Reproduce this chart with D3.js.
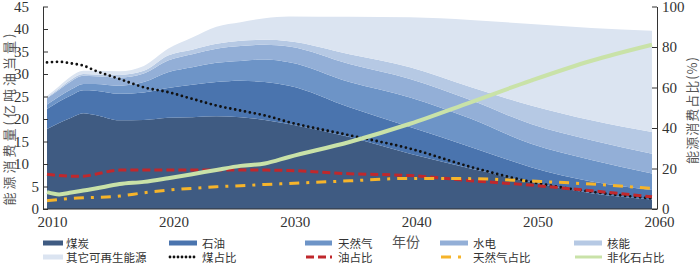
<!DOCTYPE html>
<html>
<head>
<meta charset="utf-8">
<script src="https://cdn.jsdelivr.net/npm/d3@7"></script>
<style>
  body { margin: 0; background: #fff; }
  #chart { width: 700px; height: 265px; }
</style>
</head>
<body>
<div id="chart"></div>
<script>
const years = [2010, 2011, 2012, 2013, 2014, 2016, 2018, 2020, 2022, 2024, 2026, 2028, 2030, 2035, 2040, 2045, 2050, 2055, 2060];

// 亿吨油当量
const coal    = [17.8, 19.1, 20.3, 21.3, 20.9, 19.7, 19.8, 20.3, 20.4, 20.6, 20.4, 19.8, 18.9, 16.0, 12.3, 9.0, 6.0, 3.5, 2.1];
const oil     = [4.4, 4.8, 5.0, 5.1, 5.4, 5.9, 6.1, 6.6, 7.2, 7.6, 8.1, 8.4, 8.5, 6.6, 5.9, 4.8, 3.3, 2.6, 2.1];
const gas     = [1.0, 1.1, 1.3, 1.4, 1.5, 1.8, 2.3, 3.5, 3.9, 4.3, 4.4, 5.0, 5.2, 5.6, 6.6, 6.3, 5.2, 4.8, 3.7];
const hydro   = [1.4, 1.5, 1.8, 1.8, 1.7, 1.8, 1.9, 2.6, 2.9, 3.1, 3.3, 3.3, 3.5, 4.0, 4.1, 4.1, 4.4, 4.4, 4.4];
const nuclear = [0.2, 0.3, 0.4, 0.4, 0.4, 0.6, 0.6, 1.1, 1.0, 1.1, 1.2, 1.1, 1.2, 2.2, 2.6, 2.9, 4.1, 4.4, 4.8];
const other   = [0.3, 0.5, 0.7, 0.7, 0.8, 0.8, 1.1, 1.5, 2.7, 3.8, 4.1, 4.8, 5.5, 8.3, 11.1, 14.9, 18.1, 20.5, 22.5];

// %
const coalShare      = [72.4, 72.7, 71.9, 70.8, 68.3, 64.2, 60.1, 57.7, 54.4, 51.1, 48.6, 46.2, 42.9, 36.4, 29.8, 20.8, 13.4, 8.5, 5.2];
const oilShare       = [17.2, 16.5, 16.2, 16.2, 17.2, 19.2, 19.2, 19.2, 19.2, 19.2, 19.2, 19.2, 19.0, 17.4, 16.5, 14.0, 11.8, 9.0, 6.0];
const gasShare       = [4.1, 4.7, 5.2, 5.5, 5.7, 6.4, 8.0, 9.3, 10.2, 11.0, 11.5, 12.1, 12.6, 13.9, 15.1, 15.0, 13.8, 12.3, 10.2];
const nonFossilShare = [8.3, 7.2, 8.1, 9.1, 10.1, 12.3, 13.4, 15.2, 17.2, 19.3, 21.3, 22.5, 25.7, 33.1, 42.1, 52.7, 63.4, 73.2, 81.1];

const areaNames = ["煤炭", "石油", "天然气", "水电", "核能", "其它可再生能源"];
const lineNames = ["煤占比", "油占比", "天然气占比", "非化石占比"];
const xTicks = [2010, 2020, 2030, 2040, 2050, 2060];
const leftTicks = d3.range(0, 50, 5);
const rightTicks = [0, 20, 40, 60, 80, 100];

(() => {
    const W = 700, H = 265;
    const svg = d3.select("#chart").append("svg").attr("width", W).attr("height", H);

    const x = d3.scaleLinear().domain([2010, 2060]).range([47, 652]);
    const xLab = d3.scaleLinear().domain([2010, 2060]).range([52, 659]);
    const yL = d3.scaleLinear().domain([0, 45]).range([209, 6.5]);
    const yR = d3.scaleLinear().domain([0, 100]).range([209, 6.5]);

    const areaColors = ["#3f5b82", "#4a74ae", "#6d94c7", "#93afd7", "#b6c9e4", "#dbe4f1"];
    const series = [coal, oil, gas, hydro, nuclear, other];

    const rows = years.map((y, i) => {
        const r = { year: y };
        areaNames.forEach((n, k) => r[n] = series[k][i]);
        return r;
    });
    const stacked = d3.stack().keys(areaNames)(rows);

    const area = d3.area()
        .x(d => x(d.data.year))
        .y0(d => yL(d[0]))
        .y1(d => yL(d[1]))
        .curve(d3.curveMonotoneX);

    svg.append("g").selectAll("path")
        .data(stacked)
        .join("path")
        .attr("d", area)
        .attr("fill", (d, i) => areaColors[i]);

    // share lines
    const lineStyles = [
        { data: coalShare, color: "#111", width: 2.8, dash: "0,5", cap: "round" },
        { data: oilShare, color: "#c0282c", width: 3, dash: "8,4", cap: "butt" },
        { data: gasShare, color: "#f6b42a", width: 3, dash: "10,7,3,7", cap: "butt" },
        { data: nonFossilShare, color: "#c9e2a8", width: 4, dash: null, cap: "butt" }
    ];
    const line = d3.line()
        .x(d => x(d[0]))
        .y(d => yR(d[1]))
        .curve(d3.curveMonotoneX);

    svg.append("g").selectAll("path")
        .data(lineStyles)
        .join("path")
        .attr("d", s => line(years.map((y, i) => [y, s.data[i]])))
        .attr("fill", "none")
        .attr("stroke", s => s.color)
        .attr("stroke-width", s => s.width)
        .attr("stroke-linecap", s => s.cap)
        .attr("stroke-dasharray", s => s.dash);

    const numFont = "'Liberation Serif', 'Times New Roman', serif";
    const cjkFont = "'Noto Sans CJK SC', sans-serif";

    // axes
    const gL = svg.append("g").attr("transform", "translate(43,0)")
        .call(d3.axisLeft(yL).tickValues(leftTicks).tickSizeInner(-5).tickSizeOuter(0).tickPadding(4));
    gL.selectAll("text").attr("dx", d => d >= 10 ? -10 : 0);

    const gR = svg.append("g").attr("transform", "translate(657,0)")
        .call(d3.axisRight(yR).tickValues(rightTicks).tickSizeInner(-5).tickSizeOuter(0).tickPadding(5));

    svg.append("line")
        .attr("x1", 43).attr("x2", 657)
        .attr("y1", yL(0)).attr("y2", yL(0))
        .attr("stroke", "#333");

    const gB = svg.append("g").attr("transform", `translate(0,${yL(0)})`)
        .call(d3.axisBottom(xLab).tickValues(xTicks).tickFormat(d3.format("d")).tickSize(0).tickPadding(7));
    gB.select(".domain").remove();

    [gL, gR, gB].forEach(g => {
        g.selectAll(".domain, .tick line").attr("stroke", "#333");
        g.selectAll("text").attr("font-family", numFont).attr("font-size", 15).attr("fill", "#333");
    });

    // axis titles
    svg.append("text")
        .attr("transform", "translate(8,118) rotate(-90)")
        .attr("text-anchor", "middle").attr("dominant-baseline", "central")
        .attr("font-family", cjkFont).attr("font-size", 13).attr("letter-spacing", 3)
        .attr("fill", "#555")
        .text("能源消费量(亿吨油当量)");

    svg.append("text")
        .attr("transform", "translate(691,110) rotate(-90)")
        .attr("text-anchor", "middle").attr("dominant-baseline", "central")
        .attr("font-family", cjkFont).attr("font-size", 13).attr("letter-spacing", 1)
        .attr("fill", "#555")
        .text("能源消费占比(%)");

    svg.append("text")
        .attr("x", 406).attr("y", 241)
        .attr("text-anchor", "middle").attr("dominant-baseline", "central")
        .attr("font-family", cjkFont).attr("font-size", 14)
        .attr("fill", "#555")
        .text("年份");

    // Legend
    const cols = [
        { sx: 43, w: 20, tx: 66 },
        { sx: 169, w: 28, tx: 202 },
        { sx: 305, w: 27, tx: 338 },
        { sx: 440, w: 28, tx: 473 },
        { sx: 574, w: 28, tx: 607 }
    ];
    const items = [
        ...areaNames.map((n, i) => ({ name: n, type: "area", color: areaColors[i] })),
        ...lineNames.map((n, i) => ({ name: n, type: "line", style: lineStyles[i] }))
    ];
    const rowY = [243, 257];

    const legend = svg.append("g");
    items.forEach((it, i) => {
        const c = cols[i % 5], yy = rowY[Math.floor(i / 5)];
        const g = legend.append("g");
        if (it.type === "area") {
            g.append("rect").attr("x", c.sx).attr("y", yy - 2.5)
                .attr("width", c.w).attr("height", 5).attr("fill", it.color);
        } else {
            g.append("line").attr("x1", c.sx + 1).attr("x2", c.sx + c.w)
                .attr("y1", yy).attr("y2", yy)
                .attr("stroke", it.style.color)
                .attr("stroke-width", Math.min(it.style.width, 3))
                .attr("stroke-linecap", it.style.cap)
                .attr("stroke-dasharray", it.style.dash === "0,5" ? "0,4" : it.style.dash);
        }
        g.append("text").attr("x", c.tx).attr("y", yy)
            .attr("dominant-baseline", "central")
            .attr("font-family", cjkFont).attr("font-size", 11.5)
            .attr("fill", "#333")
            .text(it.name);
    });
})();
</script>
</body>
</html>
